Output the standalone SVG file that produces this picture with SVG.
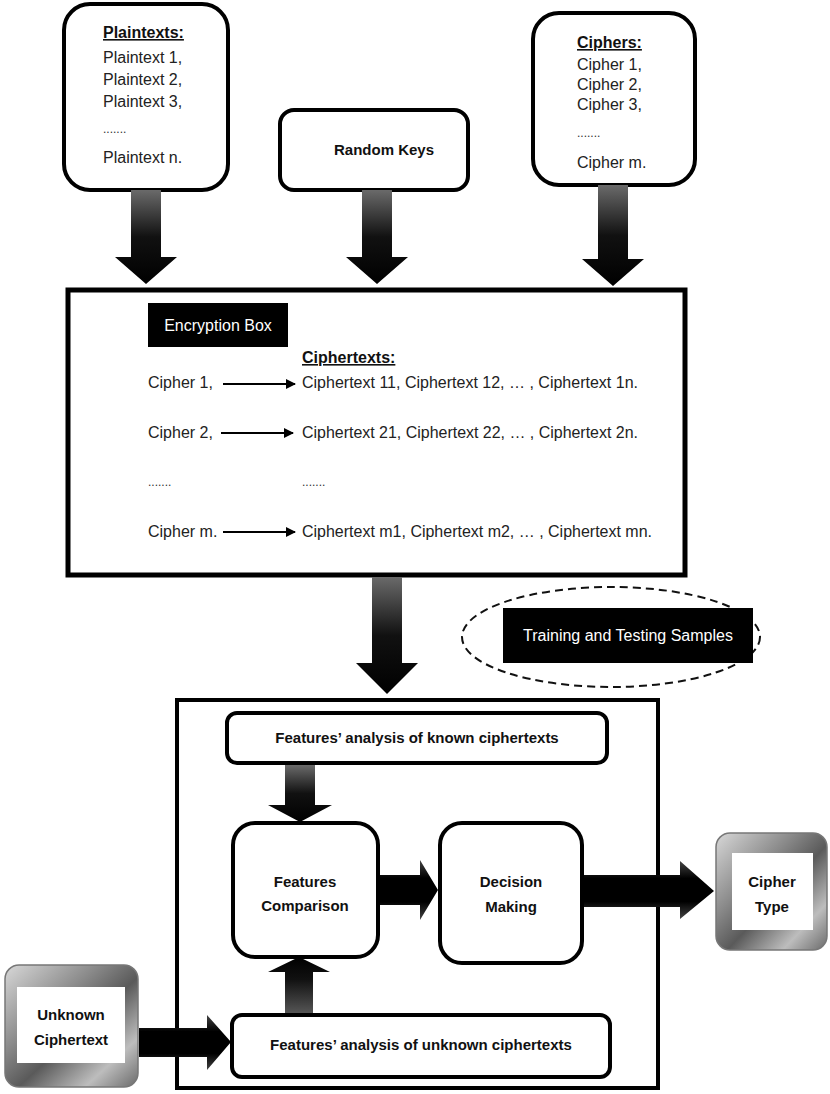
<svg xmlns="http://www.w3.org/2000/svg" width="830" height="1094" viewBox="0 0 830 1094">
<defs>
<linearGradient id="gDown" x1="0" y1="0" x2="0" y2="1">
<stop offset="0" stop-color="#6a6a6a"/>
<stop offset="0.5" stop-color="#111"/>
<stop offset="1" stop-color="#000"/>
</linearGradient>
<linearGradient id="gUp" x1="0" y1="1" x2="0" y2="0">
<stop offset="0" stop-color="#555"/>
<stop offset="0.6" stop-color="#111"/>
<stop offset="1" stop-color="#000"/>
</linearGradient>
<linearGradient id="gRight" x1="0" y1="0" x2="0" y2="1">
<stop offset="0" stop-color="#444"/>
<stop offset="0.3" stop-color="#000"/>
<stop offset="0.7" stop-color="#000"/>
<stop offset="1" stop-color="#444"/>
</linearGradient>
<linearGradient id="gFrame" x1="0" y1="0" x2="1" y2="1">
<stop offset="0" stop-color="#d8d8d8"/>
<stop offset="0.35" stop-color="#8a8a8a"/>
<stop offset="0.55" stop-color="#5a5a5a"/>
<stop offset="0.8" stop-color="#bdbdbd"/>
<stop offset="1" stop-color="#6a6a6a"/>
</linearGradient>
<marker id="ah" markerWidth="10" markerHeight="10" refX="9" refY="5" orient="auto" markerUnits="userSpaceOnUse">
<path d="M0,0 L10,5 L0,10 Z" fill="#000"/>
</marker>
</defs>
<style>
.box{fill:#fff;stroke:#000;stroke-width:4}
.big{fill:#fff;stroke:#000;stroke-width:5}
.t{font-family:"Liberation Sans",Arial,sans-serif;font-size:16px;fill:#222}
.tb{font-family:"Liberation Sans",Arial,sans-serif;font-size:15px;font-weight:bold;fill:#111}
.hd{font-family:"Liberation Sans",Arial,sans-serif;font-size:16px;font-weight:bold;fill:#111;text-decoration:underline}
.dots{font-family:"Liberation Sans",Arial,sans-serif;font-size:12px;fill:#333}
.wt{font-family:"Liberation Sans",Arial,sans-serif;font-size:16px;fill:#fff}
.c{text-anchor:middle}
.frame{fill:url(#gFrame);stroke:#777;stroke-width:1.5}
.thin{stroke:#000;stroke-width:2;fill:none}
</style>

<g id="plaintexts">
<rect class="box" x="64" y="4" width="164" height="186" rx="26"/>
<text class="hd" x="103" y="38">Plaintexts:</text>
<text class="t" x="103" y="63">Plaintext 1,</text>
<text class="t" x="103" y="85">Plaintext 2,</text>
<text class="t" x="103" y="107">Plaintext 3,</text>
<text class="dots" x="103" y="133">.......</text>
<text class="t" x="103" y="163">Plaintext n.</text>
</g>

<g id="random-keys">
<rect class="box" x="280" y="110" width="188" height="80" rx="14"/>
<text class="tb c" x="384" y="155">Random Keys</text>
</g>

<g id="ciphers">
<rect class="box" x="533" y="13" width="162" height="172" rx="26"/>
<text class="hd" x="577" y="48">Ciphers:</text>
<text class="t" x="577" y="70">Cipher 1,</text>
<text class="t" x="577" y="90">Cipher 2,</text>
<text class="t" x="577" y="110">Cipher 3,</text>
<text class="dots" x="577" y="137">.......</text>
<text class="t" x="577" y="168">Cipher m.</text>
</g>

<g id="encryption">
<rect class="big" x="68" y="290" width="617" height="285"/>
<rect x="148" y="303" width="140" height="44" fill="#000"/>
<text class="wt c" x="218" y="331">Encryption Box</text>
<text class="hd" x="302" y="363">Ciphertexts:</text>
<text class="t" x="148" y="388">Cipher 1,</text>
<text class="t" x="302" y="388" textLength="336" lengthAdjust="spacingAndGlyphs">Ciphertext 11, Ciphertext 12, … , Ciphertext 1n.</text>
<text class="t" x="148" y="438">Cipher 2,</text>
<text class="t" x="302" y="438" textLength="336" lengthAdjust="spacingAndGlyphs">Ciphertext 21, Ciphertext 22, … , Ciphertext 2n.</text>
<text class="dots" x="148" y="486">.......</text>
<text class="dots" x="302" y="486">.......</text>
<text class="t" x="148" y="537">Cipher m.</text>
<text class="t" x="302" y="537" textLength="350" lengthAdjust="spacingAndGlyphs">Ciphertext m1, Ciphertext m2, … , Ciphertext mn.</text>
</g>

<g id="samples">
<ellipse cx="611" cy="637" rx="149" ry="50" fill="none" stroke="#111" stroke-width="2" stroke-dasharray="8,5"/>
<rect x="503" y="608" width="250" height="55" fill="#000"/>
<text class="wt c" x="628" y="641">Training and Testing Samples</text>
</g>

<g id="classifier">
<rect class="box" x="177" y="700" width="481" height="388"/>
</g>

<g id="known-analysis">
<rect class="box" x="227" y="713" width="380" height="50" rx="10"/>
<text class="tb c" x="417" y="743">Features’ analysis of known ciphertexts</text>
</g>

<g id="comparison">
<rect class="box" x="233" y="823" width="145" height="134" rx="22"/>
<text class="tb c" x="305" y="887">Features</text>
<text class="tb c" x="305" y="911">Comparison</text>
</g>

<g id="decision">
<rect class="box" x="440" y="823" width="142" height="140" rx="22"/>
<text class="tb c" x="511" y="887">Decision</text>
<text class="tb c" x="511" y="912">Making</text>
</g>

<g id="cipher-type">
<rect class="frame" x="716" y="833" width="111" height="117" rx="14"/>
<rect x="732" y="853" width="81" height="77" fill="#fff"/>
<text class="tb c" x="772" y="887">Cipher</text>
<text class="tb c" x="772" y="912">Type</text>
</g>

<g id="unknown">
<rect class="frame" x="5" y="965" width="133" height="122" rx="14"/>
<rect x="17" y="987" width="108" height="76" fill="#fff"/>
<text class="tb c" x="71" y="1020">Unknown</text>
<text class="tb c" x="71" y="1045">Ciphertext</text>
</g>

<g id="unknown-analysis">
<rect class="box" x="232" y="1015" width="378" height="62" rx="10"/>
<text class="tb c" x="421" y="1050">Features’ analysis of unknown ciphertexts</text>
</g>

<g id="connectors">
<path d="M131,190 H161 V257 H177 L146,284 L115,257 H131 Z" fill="url(#gDown)"/>
<path d="M362,190 H392 V257 H408 L377,284 L346,257 H362 Z" fill="url(#gDown)"/>
<path d="M598,185 H628 V259 H644 L613,286 L582,259 H598 Z" fill="url(#gDown)"/>
<path d="M372,577 H402 V663 H418 L387,694 L356,663 H372 Z" fill="url(#gDown)"/>
<path d="M285,765 H315 V805 H332 L300,822 L268,805 H285 Z" fill="url(#gDown)"/>
<path d="M285,1013 H313 V972 H330 L299,957 L268,972 H285 Z" fill="url(#gUp)"/>
<path d="M380,875 H420 V860 L438,890 L420,920 V905 H380 Z" fill="url(#gRight)"/>
<path d="M584,875 H680 V861 L714,891 L680,919 V907 H584 Z" fill="url(#gRight)"/>
<path d="M139,1028 H207 V1015 L231,1042 L207,1070 V1057 H139 Z" fill="url(#gRight)"/>
<line class="thin" x1="223" y1="384" x2="295" y2="384" marker-end="url(#ah)"/>
<line class="thin" x1="221" y1="433" x2="293" y2="433" marker-end="url(#ah)"/>
<line class="thin" x1="223" y1="532" x2="295" y2="532" marker-end="url(#ah)"/>
</g>
</svg>
